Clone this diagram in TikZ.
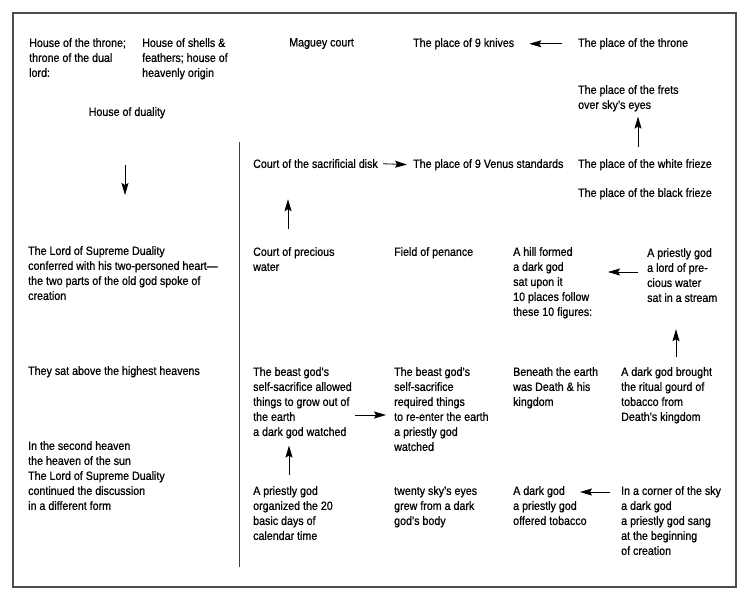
\documentclass[tikz,border=0pt]{standalone}
\usepackage{fontspec}
\setmainfont{Liberation Sans}[FakeStretch=0.89, FakeBold=0.7]
\usetikzlibrary{arrows.meta}

\begin{document}
\begin{tikzpicture}[x=1pt, y=-1pt,
    place/.style={anchor=north west, inner sep=0pt, align=left, font=\fontsize{12}{15}\selectfont},
    link/.style={draw=black, line width=0.8pt, -{Stealth[length=12pt, width=7pt, inset=2pt]}},
    frame/.style={draw=black!70, line width=1.3pt},
    divider/.style={draw=black!75, line width=0.8pt}
]
    \useasboundingbox (0,0) rectangle (750,602);

    % --- Frame and divider ---
    \draw[frame] (13,13) rectangle (736,587);
    \draw[divider] (239,142) -- (239,567);

    % --- Left column ---
    \node[place] (throneA) at (29,38) {House of the throne;\\throne of the dual\\lord:};
    \node[place] (shells) at (142,38) {House of shells \&\\feathers; house of\\heavenly origin};
    \node[place, anchor=north] (duality) at (127,107) {House of duality};
    \node[place] (lordsd) at (28,246) {The Lord of Supreme Duality\\conferred with his two-personed heart---\\the two parts of the old god spoke of\\creation};
    \node[place] (highest) at (28,366) {They sat above the highest heavens};
    \node[place] (second) at (28,441) {In the second heaven\\the heaven of the sun\\The Lord of Supreme Duality\\continued the discussion\\in a different form};

    % --- Upper places ---
    \node[place] (maguey) at (289,38) {Maguey court};
    \node[place] (knives) at (413,38) {The place of 9 knives};
    \node[place] (throne) at (578,38) {The place of the throne};
    \node[place] (frets) at (578,85) {The place of the frets\\over sky's eyes};
    \node[place] (disk) at (253,159) {Court of the sacrificial disk};
    \node[place] (venus) at (413,159) {The place of 9 Venus standards};
    \node[place] (white) at (578,159) {The place of the white frieze};
    \node[place] (black) at (578,188) {The place of the black frieze};

    % --- Figures ---
    \node[place] (water) at (253,247) {Court of precious\\water};
    \node[place] (penance) at (394,247) {Field of penance};
    \node[place] (hill) at (513,247) {A hill formed\\a dark god\\sat upon it\\10 places follow\\these 10 figures:};
    \node[place] (lordwater) at (647,248) {A priestly god\\a lord of pre-\\cious water\\sat in a stream};
    \node[place] (beastA) at (253,367) {The beast god's\\self-sacrifice allowed\\things to grow out of\\the earth\\a dark god watched};
    \node[place] (beastB) at (394,367) {The beast god's\\self-sacrifice\\required things\\to re-enter the earth\\a priestly god\\watched};
    \node[place] (death) at (513,367) {Beneath the earth\\was Death \& his\\kingdom};
    \node[place] (gourd) at (621,367) {A dark god brought\\the ritual gourd of\\tobacco from\\Death's kingdom};
    \node[place] (days) at (253,486) {A priestly god\\organized the 20\\basic days of\\calendar time};
    \node[place] (skyeyes) at (394,486) {twenty sky's eyes\\grew from a dark\\god's body};
    \node[place] (offered) at (513,486) {A dark god\\a priestly god\\offered tobacco};
    \node[place] (corner) at (621,486) {In a corner of the sky\\a dark god\\a priestly god sang\\at the beginning\\of creation};

    % --- Arrows ---
    \draw[link] ([xshift=-2pt, yshift=-46pt]duality.south) -- ([xshift=97pt, yshift=51pt]lordsd.north west);
    \draw[link, shorten <=16pt, shorten >=15pt] (throne.west) -- (knives.east);
    \draw[link, shorten <=5pt, shorten >=6pt] (disk.east) -- (venus.west);
    \draw[link] ([xshift=60pt, yshift=12pt]white.north west) -- ([xshift=60pt, yshift=-5pt]frets.south west);
    \draw[link] ([xshift=35pt, yshift=18pt]water.north west) -- ([xshift=35pt, yshift=-31pt]disk.south west);
    \draw[link] ([xshift=-9pt, yshift=-24pt]lordwater.north west) -- ([xshift=95pt, yshift=-25pt]hill.north west);
    \draw[link] ([xshift=55pt, yshift=10pt]gourd.north west) -- ([xshift=29pt, yshift=-27pt]lordwater.south west);
    \draw[link] ([xshift=102pt, yshift=-48pt]beastA.north west) -- ([xshift=-8pt, yshift=-48pt]beastB.north west);
    \draw[link] ([xshift=36pt, yshift=11pt]days.north west) -- ([xshift=36pt, yshift=-7pt]beastA.south west);
    \draw[link] ([xshift=-11pt, yshift=-6pt]corner.north west) -- ([xshift=67pt, yshift=-6pt]offered.north west);

\end{tikzpicture}
\end{document}
